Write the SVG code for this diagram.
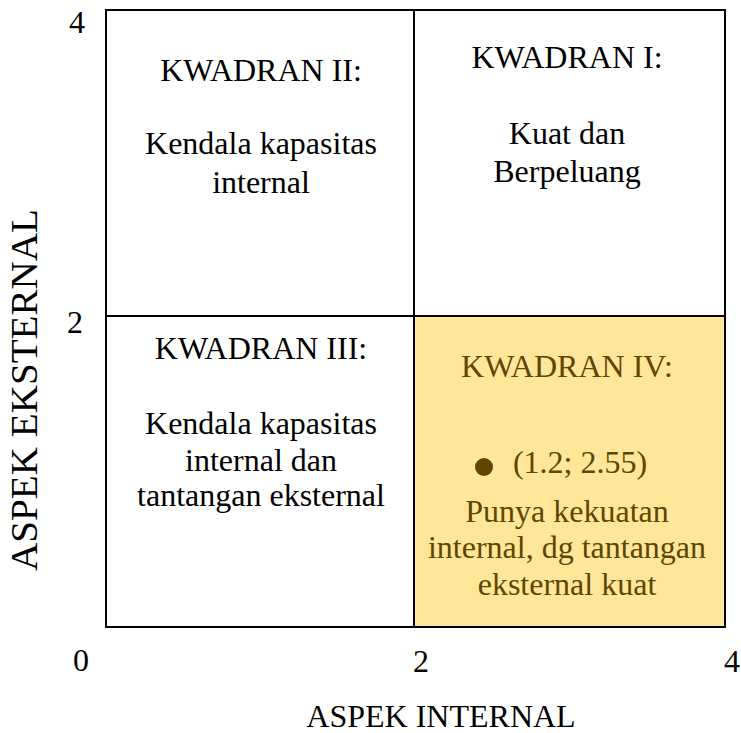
<svg xmlns="http://www.w3.org/2000/svg" width="741" height="733" viewBox="0 0 741 733">
<style>
text{font-family:"Liberation Serif","Times New Roman",serif;font-size:32px;fill:#000;text-anchor:middle}
.q4 text{fill:#5E4600}
.grid{stroke:#000;stroke-width:2;fill:none}
</style>
<rect width="741" height="733" fill="#fff"/>
<rect x="415" y="317" width="310" height="310" fill="#FFE699"/>
<g id="connectors" class="grid">
<rect x="106" y="10" width="619" height="617"/>
<line x1="414" y1="10" x2="414" y2="627"/>
<line x1="106" y1="316" x2="725" y2="316"/>
</g>
<g id="q2">
<text x="261" y="81">KWADRAN II:</text>
<text x="261" y="154">Kendala kapasitas</text>
<text x="261" y="193">internal</text>
</g>
<g id="q1">
<text x="567" y="68">KWADRAN I:</text>
<text x="567" y="144">Kuat dan</text>
<text x="567" y="182">Berpeluang</text>
</g>
<g id="q3">
<text x="261" y="359">KWADRAN III:</text>
<text x="261" y="434">Kendala kapasitas</text>
<text x="261" y="471">internal dan</text>
<text x="261" y="506">tantangan eksternal</text>
</g>
<g id="q4" class="q4">
<text x="567" y="377">KWADRAN IV:</text>
<circle cx="484" cy="467" r="9" fill="#5E4600"/>
<text x="580" y="473">(1.2; 2.55)</text>
<text x="567" y="522">Punya kekuatan</text>
<text x="567" y="558">internal, dg tantangan</text>
<text x="567" y="595">eksternal kuat</text>
</g>
<g id="axes">
<text x="77" y="33">4</text>
<text x="75" y="333">2</text>
<text x="81" y="671">0</text>
<text x="421" y="672">2</text>
<text x="732" y="672">4</text>
<text x="441" y="727">ASPEK INTERNAL</text>
<text x="0" y="0" transform="translate(37 390) rotate(-90)" style="font-size:37px" textLength="362" lengthAdjust="spacingAndGlyphs">ASPEK EKSTERNAL</text>
</g>
</svg>
